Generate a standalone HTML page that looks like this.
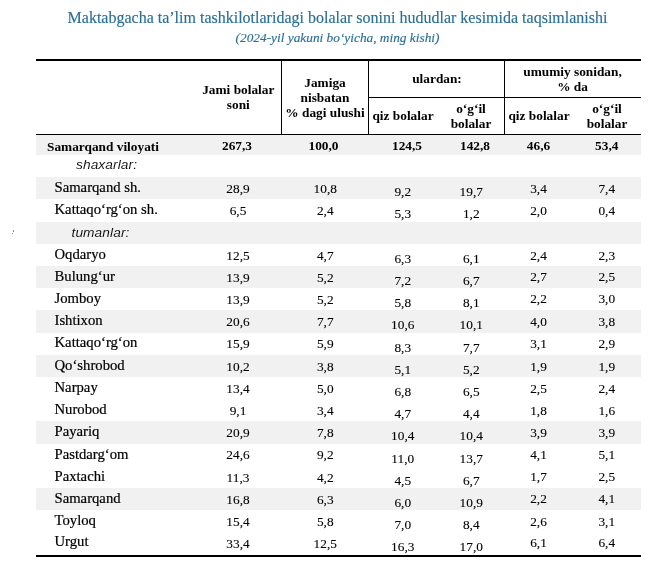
<!DOCTYPE html>
<html><head><meta charset="utf-8"><title>t</title>
<style>
html,body{margin:0;padding:0;background:#fff;}
body{will-change:transform;width:651px;height:561px;position:relative;overflow:hidden;font-family:"Liberation Serif",serif;color:#000;-webkit-text-stroke:0.2px #000;}
.a{position:absolute;white-space:nowrap;}
.title{-webkit-text-stroke:0.15px #2a6f97;left:0;width:675px;text-align:center;top:9px;font-size:16px;line-height:18px;color:#2a6f97;}
.sub{-webkit-text-stroke:0.15px #2a6f97;left:0;width:675px;text-align:center;top:30px;font-size:13.33px;line-height:16px;font-style:italic;color:#2a6f97;}
.ln{position:absolute;background:#000;}
.bg{position:absolute;left:36px;width:605px;background:#f1f1f1;}
.h{-webkit-text-stroke:0;font-weight:bold;font-size:13.33px;line-height:15px;text-align:center;}
.nm{font-size:14.7px;line-height:18px;}
.nb{-webkit-text-stroke:0;font-size:13.33px;line-height:17px;font-weight:bold;}
.it{font-size:13.7px;letter-spacing:0.1px;line-height:18px;font-style:italic;font-family:"Liberation Sans",sans-serif;color:#000;-webkit-text-stroke:0.08px #fff;}
.it2{-webkit-text-stroke:0.08px #f1f1f1;}
.v{-webkit-text-stroke:0.1px #000;font-size:13.33px;line-height:17px;text-align:center;width:80px;}
.vb{font-weight:bold;-webkit-text-stroke:0;}
</style></head><body>
<div class="a title">Maktabgacha ta’lim tashkilotlaridagi bolalar sonini hududlar kesimida taqsimlanishi</div>
<div class="a sub">(2024-yil yakuni bo‘yicha, ming kishi)</div>

<div class="bg" style="top:135px;height:20px"></div>
<div class="bg" style="top:177px;height:22px"></div>
<div class="bg" style="top:222px;height:22px"></div>
<div class="bg" style="top:266px;height:22px"></div>
<div class="bg" style="top:310px;height:23px"></div>
<div class="bg" style="top:355px;height:22px"></div>
<div class="bg" style="top:421px;height:23px"></div>
<div class="bg" style="top:488px;height:22px"></div>
<div class="ln" style="left:36px;top:59px;width:605px;height:2px"></div>
<div class="ln" style="left:36px;top:134px;width:605px;height:1px"></div>
<div class="ln" style="left:36px;top:555px;width:605px;height:2px"></div>
<div class="ln" style="left:368px;top:97px;width:273px;height:1px"></div>
<div class="ln" style="left:281px;top:60px;width:1px;height:75px"></div>
<div class="ln" style="left:368px;top:60px;width:1px;height:75px"></div>
<div class="ln" style="left:504px;top:60px;width:1px;height:75px"></div>
<div class="a h" style="left:188.3px;width:100px;top:82px">Jami bolalar<br>soni</div>
<div class="a h" style="left:275px;width:100px;top:75px">Jamiga<br>nisbatan<br>% dagi ulushi</div>
<div class="a h" style="left:369px;width:136px;top:71px">ulardan:</div>
<div class="a h" style="left:504px;width:137px;top:64px">umumiy sonidan,<br>% da</div>
<div class="a h" style="left:353px;width:100px;top:108px">qiz bolalar</div>
<div class="a h" style="left:421px;width:100px;top:102px;line-height:14.5px">o‘g‘il<br>bolalar</div>
<div class="a h" style="left:489px;width:100px;top:108px">qiz bolalar</div>
<div class="a h" style="left:557px;width:100px;top:102px;line-height:14.5px">o‘g‘il<br>bolalar</div>

<div class="a nb" style="left:47px;top:138px">Samarqand viloyati</div>
<div class="a v vb" style="left:197px;top:137px">267,3</div>
<div class="a v vb" style="left:283.5px;top:137px">100,0</div>
<div class="a v vb" style="left:367px;top:137px">124,5</div>
<div class="a v vb" style="left:435px;top:137px">142,8</div>
<div class="a v vb" style="left:498.5px;top:137px">46,6</div>
<div class="a v vb" style="left:566.75px;top:137px">53,4</div>
<div class="a it" style="left:76px;top:156px">shaxarlar:</div>
<div class="a nm" style="left:54.5px;top:178px">Samarqand sh.</div>
<div class="a v" style="left:198px;top:180px">28,9</div>
<div class="a v" style="left:285.25px;top:180px">10,8</div>
<div class="a v" style="left:362.75px;top:183px">9,2</div>
<div class="a v" style="left:431.25px;top:183px">19,7</div>
<div class="a v" style="left:498.5px;top:180px">3,4</div>
<div class="a v" style="left:566.75px;top:180px">7,4</div>
<div class="a nm" style="left:54.5px;top:200px">Kattaqo‘rg‘on sh.</div>
<div class="a v" style="left:198px;top:202px">6,5</div>
<div class="a v" style="left:285.25px;top:202px">2,4</div>
<div class="a v" style="left:362.75px;top:205px">5,3</div>
<div class="a v" style="left:431.25px;top:205px">1,2</div>
<div class="a v" style="left:498.5px;top:202px">2,0</div>
<div class="a v" style="left:566.75px;top:202px">0,4</div>
<div class="a it it2" style="left:71.5px;top:224px">tumanlar:</div>
<div class="a nm" style="left:54.5px;top:245px">Oqdaryo</div>
<div class="a v" style="left:198px;top:247px">12,5</div>
<div class="a v" style="left:285.25px;top:247px">4,7</div>
<div class="a v" style="left:362.75px;top:250px">6,3</div>
<div class="a v" style="left:431.25px;top:250px">6,1</div>
<div class="a v" style="left:498.5px;top:247px">2,4</div>
<div class="a v" style="left:566.75px;top:247px">2,3</div>
<div class="a nm" style="left:54.5px;top:267px">Bulung‘ur</div>
<div class="a v" style="left:198px;top:269px">13,9</div>
<div class="a v" style="left:285.25px;top:269px">5,2</div>
<div class="a v" style="left:362.75px;top:272px">7,2</div>
<div class="a v" style="left:431.25px;top:272px">6,7</div>
<div class="a v" style="left:498.5px;top:268px">2,7</div>
<div class="a v" style="left:566.75px;top:268px">2,5</div>
<div class="a nm" style="left:54.5px;top:289px">Jomboy</div>
<div class="a v" style="left:198px;top:291px">13,9</div>
<div class="a v" style="left:285.25px;top:291px">5,2</div>
<div class="a v" style="left:362.75px;top:294px">5,8</div>
<div class="a v" style="left:431.25px;top:294px">8,1</div>
<div class="a v" style="left:498.5px;top:290px">2,2</div>
<div class="a v" style="left:566.75px;top:290px">3,0</div>
<div class="a nm" style="left:54.5px;top:311px">Ishtixon</div>
<div class="a v" style="left:198px;top:313px">20,6</div>
<div class="a v" style="left:285.25px;top:313px">7,7</div>
<div class="a v" style="left:362.75px;top:316px">10,6</div>
<div class="a v" style="left:431.25px;top:316px">10,1</div>
<div class="a v" style="left:498.5px;top:313px">4,0</div>
<div class="a v" style="left:566.75px;top:313px">3,8</div>
<div class="a nm" style="left:54.5px;top:333px">Kattaqo‘rg‘on</div>
<div class="a v" style="left:198px;top:335px">15,9</div>
<div class="a v" style="left:285.25px;top:335px">5,9</div>
<div class="a v" style="left:362.75px;top:339px">8,3</div>
<div class="a v" style="left:431.25px;top:339px">7,7</div>
<div class="a v" style="left:498.5px;top:335px">3,1</div>
<div class="a v" style="left:566.75px;top:335px">2,9</div>
<div class="a nm" style="left:54.5px;top:356px">Qo‘shrobod</div>
<div class="a v" style="left:198px;top:358px">10,2</div>
<div class="a v" style="left:285.25px;top:358px">3,8</div>
<div class="a v" style="left:362.75px;top:361px">5,1</div>
<div class="a v" style="left:431.25px;top:361px">5,2</div>
<div class="a v" style="left:498.5px;top:358px">1,9</div>
<div class="a v" style="left:566.75px;top:358px">1,9</div>
<div class="a nm" style="left:54.5px;top:378px">Narpay</div>
<div class="a v" style="left:198px;top:380px">13,4</div>
<div class="a v" style="left:285.25px;top:380px">5,0</div>
<div class="a v" style="left:362.75px;top:383px">6,8</div>
<div class="a v" style="left:431.25px;top:383px">6,5</div>
<div class="a v" style="left:498.5px;top:380px">2,5</div>
<div class="a v" style="left:566.75px;top:380px">2,4</div>
<div class="a nm" style="left:54.5px;top:400px">Nurobod</div>
<div class="a v" style="left:198px;top:402px">9,1</div>
<div class="a v" style="left:285.25px;top:402px">3,4</div>
<div class="a v" style="left:362.75px;top:405px">4,7</div>
<div class="a v" style="left:431.25px;top:405px">4,4</div>
<div class="a v" style="left:498.5px;top:402px">1,8</div>
<div class="a v" style="left:566.75px;top:402px">1,6</div>
<div class="a nm" style="left:54.5px;top:422px">Payariq</div>
<div class="a v" style="left:198px;top:424px">20,9</div>
<div class="a v" style="left:285.25px;top:424px">7,8</div>
<div class="a v" style="left:362.75px;top:427px">10,4</div>
<div class="a v" style="left:431.25px;top:427px">10,4</div>
<div class="a v" style="left:498.5px;top:424px">3,9</div>
<div class="a v" style="left:566.75px;top:424px">3,9</div>
<div class="a nm" style="left:54.5px;top:445px">Pastdarg‘om</div>
<div class="a v" style="left:198px;top:446px">24,6</div>
<div class="a v" style="left:285.25px;top:446px">9,2</div>
<div class="a v" style="left:362.75px;top:450px">11,0</div>
<div class="a v" style="left:431.25px;top:450px">13,7</div>
<div class="a v" style="left:498.5px;top:446px">4,1</div>
<div class="a v" style="left:566.75px;top:446px">5,1</div>
<div class="a nm" style="left:54.5px;top:467px">Paxtachi</div>
<div class="a v" style="left:198px;top:469px">11,3</div>
<div class="a v" style="left:285.25px;top:469px">4,2</div>
<div class="a v" style="left:362.75px;top:472px">4,5</div>
<div class="a v" style="left:431.25px;top:472px">6,7</div>
<div class="a v" style="left:498.5px;top:468px">1,7</div>
<div class="a v" style="left:566.75px;top:468px">2,5</div>
<div class="a nm" style="left:54.5px;top:489px">Samarqand</div>
<div class="a v" style="left:198px;top:491px">16,8</div>
<div class="a v" style="left:285.25px;top:491px">6,3</div>
<div class="a v" style="left:362.75px;top:494px">6,0</div>
<div class="a v" style="left:431.25px;top:494px">10,9</div>
<div class="a v" style="left:498.5px;top:490px">2,2</div>
<div class="a v" style="left:566.75px;top:490px">4,1</div>
<div class="a nm" style="left:54.5px;top:511px">Toyloq</div>
<div class="a v" style="left:198px;top:513px">15,4</div>
<div class="a v" style="left:285.25px;top:513px">5,8</div>
<div class="a v" style="left:362.75px;top:516px">7,0</div>
<div class="a v" style="left:431.25px;top:516px">8,4</div>
<div class="a v" style="left:498.5px;top:513px">2,6</div>
<div class="a v" style="left:566.75px;top:513px">3,1</div>
<div class="a nm" style="left:54.5px;top:532px">Urgut</div>
<div class="a v" style="left:198px;top:535px">33,4</div>
<div class="a v" style="left:285.25px;top:535px">12,5</div>
<div class="a v" style="left:362.75px;top:538px">16,3</div>
<div class="a v" style="left:431.25px;top:538px">17,0</div>
<div class="a v" style="left:498.5px;top:534px">6,1</div>
<div class="a v" style="left:566.75px;top:534px">6,4</div>
<div style="position:absolute;left:13px;top:230px;width:1px;height:2px;background:#8a8a8a"></div><div style="position:absolute;left:12px;top:233px;width:1px;height:1px;background:#999"></div>
</body></html>
